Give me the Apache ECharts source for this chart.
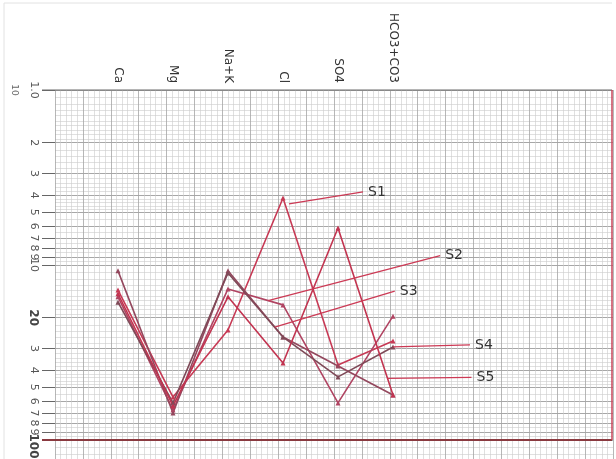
<!DOCTYPE html>
<html><head><meta charset="utf-8">
<script src="https://cdn.jsdelivr.net/npm/echarts@6/dist/echarts.min.js"></script>
<style>html,body{margin:0;padding:0;background:#fff}#c{width:616px;height:459px}</style>
</head><body><div id="c"></div>
<script>
// ---- data ----
const categories = ['Ca', 'Mg', 'Na+K', 'Cl', 'SO4', 'HCO3+CO3'];
const S1 = [13.9, 56.8, 23.5, 4.14, 37.3, 27.2];
const S2 = [15.2, 67.4, 13.7, 16.9, 61.4, 19.6];
const S3 = [10.8, 70.1, 10.8, 25.8, 37.8, 55.3];
const S4 = [16.3, 61.4, 11.1, 25.8, 43.6, 29.4];
const S5 = [14.6, 63.9, 15.2, 36.3, 6.15, 55.3];
const seriesNames = ['S1', 'S2', 'S3', 'S4', 'S5'];
const yTickValues = [1, 2, 3, 4, 5, 6, 7, 8, 9, 10, 20, 30, 40, 50, 60, 70, 80, 90, 100];
const yTickLabels = ['1.0', '2', '3', '4', '5', '6', '7', '8', '9', '10', '20', '3', '4', '5', '6', '7', '8', '9', '100'];

// ---- styling ----
const YMIN = 1, YMAX = 128.4;
const lineColors = ['#c73a55', '#b04462', '#94485e', '#7f4a58', '#c23450'];
const paperMinor = [];
[1, 10, 100].forEach(function (d) {
  let m = 1;
  while (m < 10 - 1e-9) {
    const v = +(m * d).toPrecision(6);
    if (v <= YMAX) paperMinor.push(v);
    m += m < 2 - 1e-9 ? 0.1 : (m < 5 - 1e-9 ? 0.2 : 0.5);
    m = +m.toFixed(2);
  }
});
const labelValues = yTickValues.slice(0, yTickValues.length - 1); // 100 drawn separately below its line
function yLabel(v) {
  for (let i = 0; i < yTickValues.length; i++) {
    if (Math.abs(v - yTickValues[i]) / yTickValues[i] < 1e-6) {
      const t = yTickLabels[i];
      if (t === '20') return '{mid|' + t + '}';
      return t;
    }
  }
  return '';
}

const chart = echarts.init(document.getElementById('c'), null, {renderer: 'canvas'});
const allSeries = [S1, S2, S3, S4, S5];
chart.setOption({
  animation: false,
  backgroundColor: '#ffffff',
  grid: [
    {left: 55, right: 3, top: 90, bottom: 0, containLabel: false, outerBoundsMode: 'none'},
    {left: 63, right: 3, top: 90, bottom: 0, containLabel: false, outerBoundsMode: 'none'}
  ],
  xAxis: [
    {gridIndex: 0, type: 'value', min: 0, max: 100, interval: 5,
      axisLine: {show: false}, axisTick: {show: false}, axisLabel: {show: false},
      splitLine: {show: true, lineStyle: {color: '#a4a4a4', width: 0.8}},
      minorTick: {show: false, splitNumber: 5},
      minorSplitLine: {show: true, lineStyle: {color: '#cbcbcb', width: 0.6}}},
    {gridIndex: 1, type: 'category', data: categories, position: 'top', boundaryGap: false,
      min: -1, max: 9,
      axisLine: {show: false}, axisTick: {show: false}, splitLine: {show: false},
      axisLabel: {interval: 0, rotate: 90, margin: 7, fontSize: 12, color: '#333',
        fontFamily: 'DejaVu Sans'}}
  ],
  yAxis: [
    {gridIndex: 0, type: 'log', logBase: 10, min: YMIN, max: YMAX, inverse: true, position: 'right',
      axisLine: {show: false},
      axisTick: {show: false, customValues: paperMinor},
      axisLabel: {show: false},
      splitLine: {show: true, lineStyle: {color: '#cbcbcb', width: 0.6}}},
    {gridIndex: 0, type: 'log', logBase: 10, min: YMIN, max: YMAX, inverse: true, position: 'left',
      axisLine: {show: false},
      axisTick: {show: true, length: 13, customValues: yTickValues, lineStyle: {color: '#666', width: 1}},
      axisLabel: {show: true, customValues: labelValues, formatter: yLabel, rotate: -90, margin: 16,
        showMinLabel: true, showMaxLabel: true, hideOverlap: false,
        fontSize: 11, color: '#555', fontFamily: 'DejaVu Sans',
        rich: {
          mid: {fontSize: 12, fontWeight: 'bold', color: '#444', fontFamily: 'DejaVu Sans'}
        }},
      splitLine: {show: true, lineStyle: {color: '#989898', width: 0.8}}},
    {gridIndex: 1, type: 'log', logBase: 10, min: YMIN, max: YMAX, inverse: true, show: false}
  ],
  series: allSeries.map(function (d, i) {
    return {
      name: seriesNames[i], type: 'line', xAxisIndex: 1, yAxisIndex: 2, data: d,
      symbol: 'triangle', symbolSize: 5, z: 5,
      lineStyle: {width: 1.6, color: lineColors[i]},
      itemStyle: {color: lineColors[i]}
    };
  })
});

// ---- annotations (leader lines to S1..S5), anchored through the chart's own scales ----
function pt(si, ci) { return chart.convertToPixel({seriesIndex: si}, [ci, allSeries[si][ci]]); }
function along(si, ci, f) {
  const a = pt(si, ci), b = pt(si, ci + 1);
  return [a[0] + (b[0] - a[0]) * f, a[1] + (b[1] - a[1]) * f];
}
const anchors = [
  {p: (function () { const q = pt(0, 3); return [q[0] + 6, q[1] + 6]; })(), dx: 74, dy: -12},
  {p: along(1, 2, 0.73), dx: 172, dy: -45},
  {p: along(2, 2, 0.85), dx: 120, dy: -36},
  {p: pt(3, 5), dx: 77, dy: -2},
  {p: along(4, 4, 0.9), dx: 84, dy: -1}
];
const W = chart.getWidth();
const y100 = chart.convertToPixel({seriesIndex: 0}, [0, yTickValues[yTickValues.length - 1]])[1];
const y1 = chart.convertToPixel({seriesIndex: 0}, [0, yTickValues[0]])[1];
const graphics = [
  {type: 'line', shape: {x1: 42, y1: y1, x2: W - 4, y2: y1}, style: {stroke: '#6a6a6a', lineWidth: 1}, z: 3},
  {type: 'line', shape: {x1: 42, y1: y100, x2: W - 4, y2: y100}, style: {stroke: '#8a3a40', lineWidth: 2}, z: 6},
  {type: 'line', shape: {x1: W - 4, y1: y1, x2: W - 4, y2: y100}, style: {stroke: '#c9455a', lineWidth: 1.5}, z: 6},
  {type: 'line', shape: {x1: 4, y1: 3, x2: W - 4, y2: 3}, style: {stroke: '#e2e2e2', lineWidth: 1}, z: 1},
  {type: 'line', shape: {x1: 4, y1: 3, x2: 4, y2: 459}, style: {stroke: '#e2e2e2', lineWidth: 1}, z: 1},
  {type: 'text', x: 14, y: y1, rotation: -Math.PI / 2, z: 7,
    style: {text: '10', fill: '#666', font: '9px DejaVu Sans', align: 'center', verticalAlign: 'middle'}},
  {type: 'text', x: 33, y: y100 + 6, rotation: -Math.PI / 2, z: 7,
    style: {text: yTickLabels[yTickLabels.length - 1], fill: '#444', font: 'bold 12px DejaVu Sans',
      align: 'center', verticalAlign: 'middle'}}
];
anchors.forEach(function (a, i) {
  const ex = a.p[0] + a.dx, ey = a.p[1] + a.dy;
  graphics.push({type: 'line', shape: {x1: a.p[0], y1: a.p[1], x2: ex, y2: ey},
    style: {stroke: '#cc3a55', lineWidth: 1.3}, z: 7});
  graphics.push({type: 'text', x: ex + 5, y: ey, z: 7,
    style: {text: seriesNames[i], fill: '#333', font: '14px DejaVu Sans', verticalAlign: 'middle'}});
});
chart.setOption({graphic: graphics});
</script>
</body></html>
